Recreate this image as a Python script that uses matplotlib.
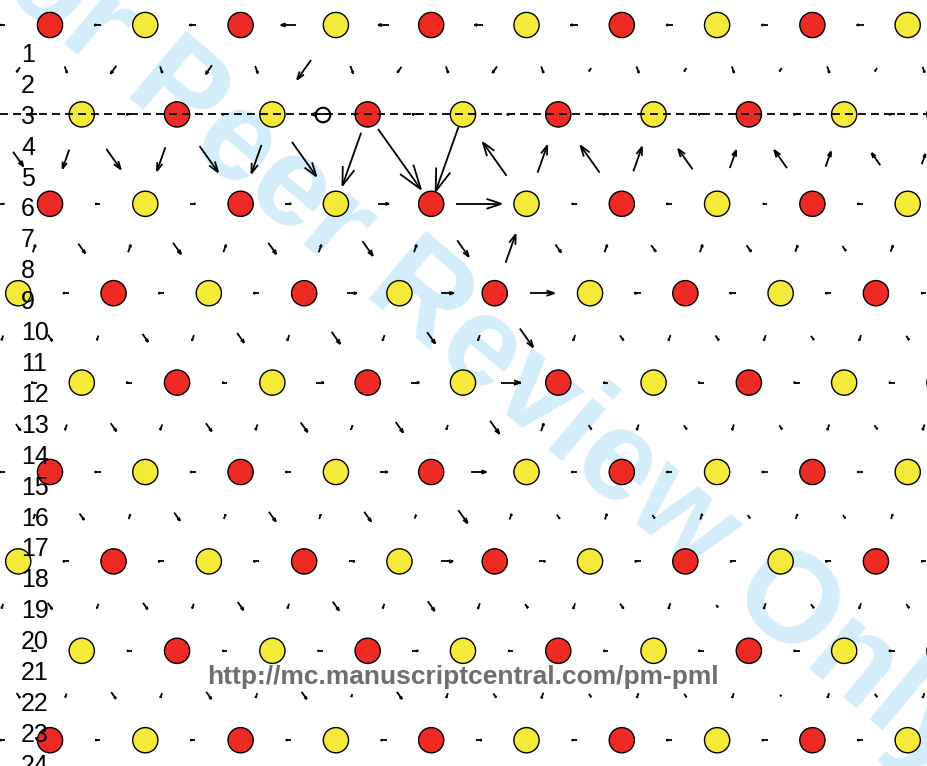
import numpy as np
import matplotlib.pyplot as plt
from matplotlib.collections import LineCollection

# lattice (pixels of the 927x766 image)
a = 95.3          # atom spacing along a row
c = 89.4          # spacing between atomic rows
x_origin, y_origin = 50, 25

# each atomic row: shift along the row (fraction of a) and species of the atom sitting at that shift
row_shift = [0, 1/3, 0, -1/3, 1/3, 0, -1/3, 1/3, 0]
row_first = ['R', 'Y', 'R', 'Y', 'Y', 'R', 'Y', 'Y', 'R']

# arrows between neighbours of the same row (px, + = to the right), left to right
inrow_arrows = [
    [-5, -7, -7, -15, -11, -9, -8, -7, -7, -7],
    [-5, -6, -6, -18, -7, -8, -6, -6, -6, -6],
    [4, -5, 5, 6, 11, 45, -5, -6, -4, -6],
    [-6, -6, -6, 10, 13, 24, -7, -7, -6, -5],
    [-6, -6, -5, 8, 8, 20, -5, -6, -6, -6],
    [-5, -6, -6, -6, 8, 15, -6, -6, -6, -6],
    [-6, -6, -6, 6, 12, 6, -6, -6, -6, -5],
    [-5, -5, -5, -5, 6, -5, -5, -6, -6, -6],
    [-5, -5, -5, -5, -6, 6, -5, -6, -6, -6],
]

# arrows on the bonds between row r and row r+1 (px along the bond, + = downwards), left to right
bond_arrows = [
    [6, 7, 10, 7, 11, 8, 24, 8, 7, 7, 8, 7, 4, 7, 4, 7, 4, 7, 4, 6],
    [18, 20, 25, 25, 32, 30, 42, 56, 74, 68, -41, -29, -33, -26, -25, -19, -22, -16, -15, -11],
    [-8, 12, -8, 14, -8, 14, -8, 18, -8, 20, -30, 10, -8, 8, -8, 8, -7, 6, -7],
    [5, 8, 5, 10, 6, 12, 6, 15, 6, 14, 6, 23, 6, 6, 6, 6, 6, 5, 6, 5],
    [8, 6, 10, 6, 10, 6, 12, 5, 13, 5, 16, -8, 5, 6, 5, 6, 5, 6, 5, 6],
    [-5, 8, -5, 10, -5, 12, -5, 12, -4, 16, -6, 5, -6, 4, -6, 4, -5, 4, -5],
    [5, 8, 5, 8, 5, 10, 5, 11, 5, 12, 6, 5, 6, 6, 6, 3, 6, 5, 6, 5],
    [6, 4, 8, 5, 9, 5, 9, 3, 9, 5, 5, 6, 4, 5, 4, 5, 2, 5, 4, 5],
]

twin_row = 1
core = (323, 115)
line_numbers = list(range(1, 25))
url = 'http://mc.manuscriptcentral.com/pm-pml'
watermark = 'For Peer Review Only'

colours = {'R': '#ee2a24', 'Y': '#f5ea3a'}


def xpix(u):
    return x_origin + a * u


def ypix(r):
    return y_origin + c * r


def arrow_segments(x, y, vx, vy):
    # matlab-like quiver arrow centred on (x, y)
    tail = (x - vx / 2, y - vy / 2)
    tip = (x + vx / 2, y + vy / 2)
    back = (tip[0] - 0.33 * vx, tip[1] - 0.33 * vy)
    px, py = -vy * 0.11, vx * 0.11
    return [[tail, tip], [tip, (back[0] + px, back[1] + py)], [tip, (back[0] - px, back[1] - py)]]


fig = plt.figure(figsize=(9.27, 7.66), dpi=100)
ax = fig.add_axes([0, 0, 1, 1])
ax.set_xlim(0, 927)
ax.set_ylim(766, 0)
ax.axis('off')

# watermark
ax.text(462, 334, watermark, rotation=-40, rotation_mode='anchor', ha='center', va='center',
        fontsize=92, fontweight='bold', color='#d4edfa', family='Liberation Sans', zorder=0)

# atoms
xs, ys, fc = [], [], []
for r, (sh, first) in enumerate(zip(row_shift, row_first)):
    other = 'Y' if first == 'R' else 'R'
    for k in range(-2, 12):
        x = xpix(sh + k)
        if -20 < x < 950:
            xs.append(x)
            ys.append(ypix(r))
            fc.append(colours[first if k % 2 == 0 else other])
ax.scatter(xs, ys, s=330, c=fc, edgecolors='black', linewidths=1.0, zorder=3)

# arrows
segs = []
for r, vals in enumerate(inrow_arrows):
    u0 = ((row_shift[r] + 0.5 + 0.53) % 1) - 0.53
    for i, s in enumerate(vals):
        segs += arrow_segments(xpix(u0 + i), ypix(r), s, 0)

for r, vals in enumerate(bond_arrows):
    delta = (row_shift[r + 1] - row_shift[r]) % 1
    spots = []
    for k in range(-2, 12):
        for d in (delta, delta - 1):
            x = xpix(row_shift[r] + k + d / 2)
            if -3 < x < 930:
                spots.append((x, d))
    spots.sort()
    y = ypix(r + 0.5)
    for (x, d), s in zip(spots, vals):
        dx, dy = d * a, c
        n = np.hypot(dx, dy)
        segs += arrow_segments(x, y, s * dx / n, s * dy / n)

ax.add_collection(LineCollection(segs, colors='black', linewidths=1.3, zorder=2))

# twin plane and core marker
ax.axhline(ypix(twin_row), color='black', lw=1.3, ls=(0, (4.4, 2.8)), zorder=4)
ax.scatter([core[0]], [core[1]], s=110, facecolors='none', edgecolors='black', linewidths=1.5, zorder=5)

# manuscript line numbers
for n in line_numbers:
    ax.text(21, 62 + 30.9 * (n - 1), str(n), fontsize=18, family='Liberation Sans',
            ha='left', va='baseline', color='black', zorder=6)

ax.text(463, 684, url, fontsize=19, fontweight='bold', family='Liberation Sans',
        color='#6e6e6e', ha='center', va='baseline', zorder=6)

fig.savefig('out.png', dpi=100)
